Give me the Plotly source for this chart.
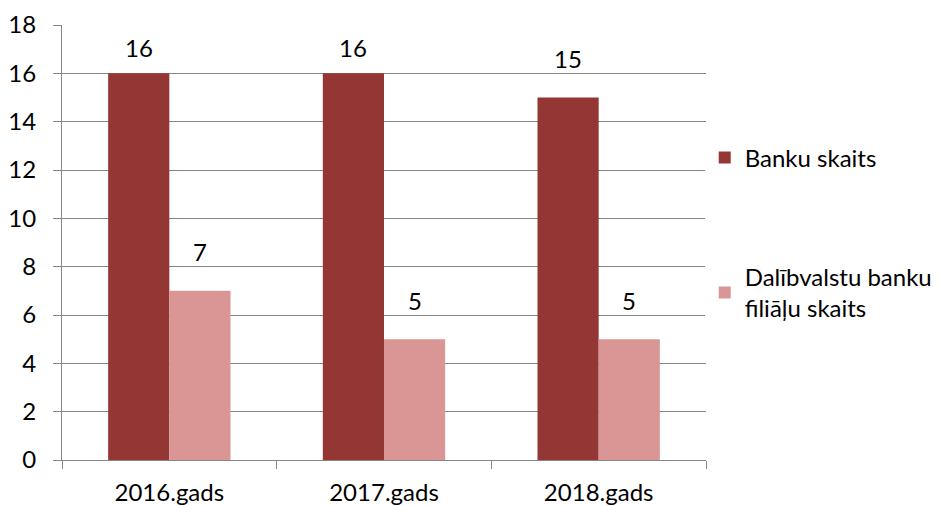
import plotly.graph_objects as go

categories = ["2016.gads", "2017.gads", "2018.gads"]
banku_skaits = [16, 16, 15]
filialu_skaits = [7, 5, 5]
series_names = ["Banku skaits", "Dalībvalstu banku<br>filiāļu skaits"]
colors = ["#943634", "#D99694"]

FONT = "Lato, 'Open Sans', sans-serif"
FS = 24
BARGAP = 0.43
YMAX = 18

fig = go.Figure()
series = [banku_skaits, filialu_skaits]
for i, (vals, name) in enumerate(zip(series, series_names)):
    fig.add_trace(go.Bar(
        x=categories, y=vals, name=name,
        marker=dict(color=colors[i], line=dict(width=0)),
        cliponaxis=False, legendgroup=f"g{i}",
    ))

# data labels above each bar, kept inside the plot area (like Excel)
plot_w = 939 - 8 - 54 - 233
plot_h = 498 - 17 - 46
units_per_px = YMAX / plot_h
bar_px = plot_w / len(categories) * (1 - BARGAP) / len(series)
for i, vals in enumerate(series):
    shift = (i - (len(series) - 1) / 2) * bar_px
    for c, v in zip(categories, vals):
        ylab = min(v + 39 * units_per_px, YMAX - 22 * units_per_px)
        fig.add_annotation(x=c, y=ylab, xref="x", yref="y", text=str(v),
                           showarrow=False, xshift=shift, yanchor="middle",
                           font=dict(size=FS, color="#000000", family=FONT))

fig.update_layout(
    width=931, height=498,
    margin=dict(l=54, r=233, t=17, b=46, autoexpand=False),
    paper_bgcolor="white", plot_bgcolor="white",
    barmode="group", bargap=BARGAP, bargroupgap=0,
    font=dict(family=FONT, size=FS, color="#000000"),
    legend=dict(x=0.998, y=0.746, xanchor="left", yanchor="top",
                font=dict(size=FS, family=FONT), tracegroupgap=85,
                itemwidth=30),
    showlegend=True,
)
fig.update_yaxes(
    range=[0, YMAX], dtick=2, showgrid=True, gridcolor="#868686", gridwidth=1,
    showline=True, linecolor="#868686", ticks="outside", ticklen=8,
    tickcolor="#868686", zeroline=False, tickfont=dict(size=FS),
    automargin=False, ticklabelstandoff=12,
)
fig.update_xaxes(
    showline=True, linecolor="#868686", ticks="outside", ticklen=8,
    tickcolor="#868686", tickson="boundaries", tickfont=dict(size=FS),
    automargin=False, ticklabelstandoff=11,
)

fig.write_html("out.html")
